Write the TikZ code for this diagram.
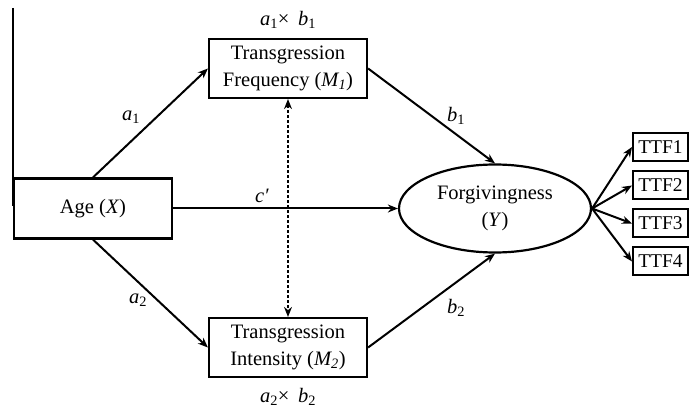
\documentclass[tikz,border=0pt]{standalone}
\usepackage{fontspec}
\setmainfont{Liberation Serif}
\usetikzlibrary{arrows.meta,shapes.geometric}
\begin{document}
\begin{tikzpicture}[x=1pt,y=-1pt,
  box/.style={draw,line width=2.2pt,inner sep=0pt,align=center,font=\fontsize{20.5}{27}\selectfont},
  ttfbox/.style={draw,line width=2pt,inner sep=0pt,minimum width=55pt,minimum height=28pt,font=\fontsize{19.5}{22}\selectfont},
  lbl/.style={inner sep=0pt,font=\fontsize{20.5}{24}\selectfont},
  arr/.style={line width=2pt,-{Stealth[length=10pt,width=8pt]}},
  dasharr/.style={line width=1.5pt,densely dashed,{Stealth[length=10pt,width=8pt]}-{Stealth[length=10pt,width=8pt]}}]
\useasboundingbox (0,0) rectangle (689,409);
% left edge line
\coordinate (vt) at (13,8);
\coordinate (vb) at (13,206);
\draw[line width=1.2pt] (vt) -- (vb);
% nodes
\node[box,minimum width=158pt,minimum height=60pt] (age) at (93,208.5) {Age (\textit{X})};
\node[box,minimum width=158pt,minimum height=59pt] (m1) at (288,68.5) {Transgression\\Frequency (\textit{M\textsubscript{1}})};
\node[box,minimum width=158pt,minimum height=59pt] (m2) at (288,347.5) {Transgression\\Intensity (\textit{M\textsubscript{2}})};
\node[draw,ellipse,line width=2.2pt,minimum width=192pt,minimum height=88pt,inner sep=0pt,align=center,font=\fontsize{20.5}{27}\selectfont] (y) at (495,208.5) {Forgivingness\\(\textit{Y})};
\node[ttfbox] (t1) at (660.5,147) {TTF1};
\node[ttfbox] (t2) at (660.5,185.5) {TTF2};
\node[ttfbox] (t3) at (660.5,223.5) {TTF3};
\node[ttfbox] (t4) at (660.5,261.5) {TTF4};
% connectors
\draw[arr] (age.north) -- (m1.west);
\draw[arr] (age.south) -- (m2.west);
\draw[arr] (age.east) -- (y.west);
\draw[arr] (m1.east) -- (y.north);
\draw[arr] (m2.east) -- (y.south);
\draw[dasharr] (m1.south) -- (m2.north);
\draw[arr] (y.east) -- (t1.west);
\draw[arr] (y.east) -- (t2.west);
\draw[arr] (y.east) -- (t3.west);
\draw[arr] (y.east) -- (t4.west);
% labels
\node[lbl] (la1b1) at (288,20) {\textit{a}\textsubscript{1}×\, \textit{b}\textsubscript{1}};
\node[lbl] (la2b2) at (288,397) {\textit{a}\textsubscript{2}×\, \textit{b}\textsubscript{2}};
\node[lbl] (la1) at (131,117) {\textit{a}\textsubscript{1}};
\node[lbl] (la2) at (138,300) {\textit{a}\textsubscript{2}};
\node[lbl] (lc) at (262,196) {\textit{c′}};
\node[lbl] (lb1) at (456,116) {\textit{b}\textsubscript{1}};
\node[lbl] (lb2) at (456,308) {\textit{b}\textsubscript{2}};
\end{tikzpicture}
\end{document}
